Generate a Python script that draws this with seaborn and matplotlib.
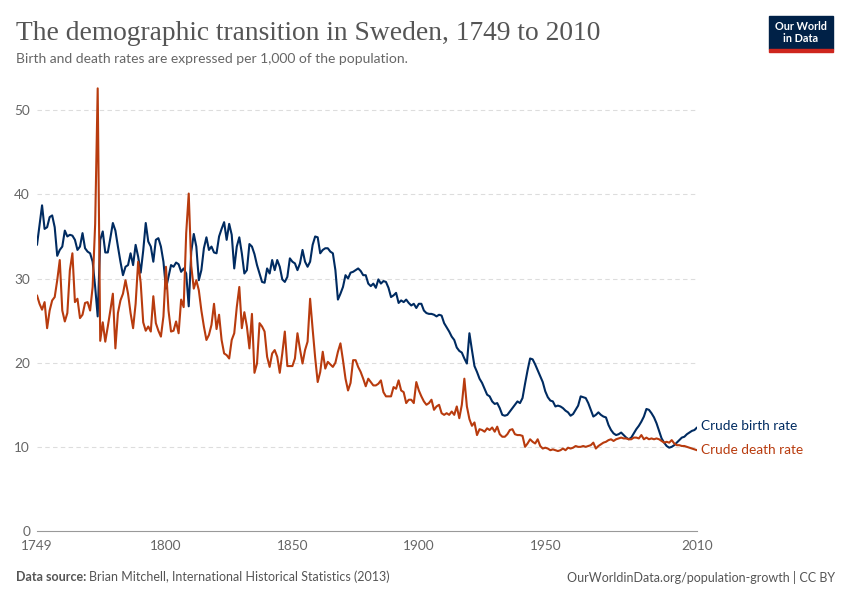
import matplotlib
matplotlib.use("Agg")
import matplotlib.pyplot as plt
import numpy as np
import pandas as pd
import seaborn as sns
from matplotlib.patches import Rectangle

# Sweden, crude rates per 1,000, one value per year 1749..2010
years = list(range(1749, 2011))

birth_rate = [
    34.0,                                                        # 1749
    36.4, 38.7, 35.9, 36.1, 37.3, 37.5, 36.1, 32.7, 33.4, 33.8,  # 1750s
    35.7, 35.0, 35.2, 35.1, 34.6, 33.4, 33.8, 35.4, 33.6, 33.2,  # 1760s
    33.0, 32.0, 29.0, 25.5, 34.6, 35.6, 33.1, 33.1, 34.8, 36.6,  # 1770s
    35.7, 33.8, 32.0, 30.4, 31.4, 31.6, 33.0, 31.6, 34.0, 32.6,  # 1780s
    30.7, 33.3, 36.6, 34.4, 33.8, 32.0, 34.6, 34.8, 33.8, 32.0,  # 1790s
    28.8, 30.2, 31.6, 31.4, 31.9, 31.7, 30.8, 31.2, 30.6, 26.7,  # 1800s
    33.2, 35.3, 33.8, 29.8, 31.0, 33.6, 34.9, 33.4, 33.8, 33.1,  # 1810s
    33.0, 35.0, 35.9, 36.7, 34.6, 36.5, 35.2, 31.2, 33.8, 34.9,  # 1820s
    33.0, 30.6, 31.0, 34.1, 33.8, 32.9, 31.6, 30.6, 29.6, 29.5,  # 1830s
    31.2, 30.6, 32.2, 31.0, 32.2, 31.4, 29.9, 29.6, 30.2, 32.4,  # 1840s
    32.0, 31.8, 31.0, 31.8, 33.4, 32.0, 31.4, 32.0, 34.0, 35.0,  # 1850s
    34.9, 33.0, 33.4, 33.6, 33.6, 33.2, 33.0, 31.0, 27.5, 28.2,  # 1860s
    29.0, 30.4, 30.0, 30.7, 30.8, 31.0, 31.2, 30.9, 30.4, 30.4,  # 1870s
    29.4, 29.1, 29.4, 28.9, 29.9, 29.4, 29.7, 29.6, 28.9, 27.8,  # 1880s
    28.0, 28.3, 27.1, 27.4, 27.2, 27.5, 27.1, 26.8, 27.0, 26.5,  # 1890s
    27.0, 27.0, 26.2, 25.9, 25.8, 25.8, 25.7, 25.5, 25.7, 25.6,  # 1900s
    24.7, 24.2, 23.7, 23.1, 22.7, 21.8, 21.4, 21.2, 20.5, 19.9,  # 1910s
    23.5, 21.5, 19.6, 18.9, 18.1, 17.6, 16.9, 16.2, 16.0, 15.4,  # 1920s
    15.1, 15.2, 14.6, 13.8, 13.7, 13.8, 14.2, 14.6, 15.0, 15.4,  # 1930s
    15.2, 15.8, 17.5, 19.1, 20.5, 20.4, 19.8, 19.1, 18.4, 17.7,  # 1940s
    16.6, 15.9, 15.5, 15.4, 14.8, 14.9, 14.8, 14.6, 14.3, 14.1,  # 1950s
    13.7, 13.9, 14.4, 14.9, 16.0, 15.9, 15.8, 15.2, 14.4, 13.6,  # 1960s
    13.8, 14.1, 13.8, 13.6, 13.5, 12.6, 12.0, 11.6, 11.4, 11.5,  # 1970s
    11.7, 11.4, 11.1, 10.9, 11.1, 11.6, 12.1, 12.5, 13.0, 13.6,  # 1980s
    14.5, 14.4, 14.0, 13.5, 12.8, 11.9, 11.0, 10.5, 10.1, 9.9,   # 1990s
    10.0, 10.2, 10.5, 10.8, 11.1, 11.2, 11.5, 11.7, 11.9, 12.0,  # 2000s
    12.3,                                                        # 2010
]

death_rate = [
    28.0,                                                        # 1749
    27.0, 26.3, 27.2, 24.1, 26.2, 27.4, 27.8, 29.8, 32.2, 26.2,  # 1750s
    24.9, 25.9, 31.0, 33.0, 27.2, 27.6, 25.3, 25.7, 27.1, 27.2,  # 1760s
    26.2, 29.0, 36.5, 52.6, 22.6, 24.8, 22.5, 24.3, 26.2, 28.2,  # 1770s
    21.7, 25.9, 27.4, 28.2, 29.8, 28.2, 25.9, 24.1, 27.0, 32.0,  # 1780s
    29.5, 24.8, 23.8, 24.3, 23.7, 27.9, 24.7, 23.8, 23.1, 25.5,  # 1790s
    31.4, 26.2, 23.7, 23.8, 24.9, 23.5, 27.5, 26.6, 35.4, 40.1,  # 1800s
    31.5, 28.8, 29.8, 28.6, 26.2, 24.3, 22.7, 23.3, 24.5, 27.0,  # 1810s
    24.0, 25.7, 22.7, 21.1, 20.9, 20.5, 22.7, 23.5, 26.6, 29.0,  # 1820s
    24.1, 26.0, 24.3, 21.7, 25.8, 18.8, 19.9, 24.7, 24.3, 23.7,  # 1830s
    20.7, 19.5, 21.1, 21.5, 20.7, 18.8, 21.1, 23.7, 19.6, 19.6,  # 1840s
    19.6, 20.5, 23.5, 21.6, 19.9, 21.5, 22.5, 27.6, 24.0, 20.6,  # 1850s
    17.7, 18.9, 21.3, 19.3, 20.1, 19.8, 19.5, 20.0, 21.3, 22.3,  # 1860s
    20.3, 18.1, 16.7, 17.6, 20.3, 20.3, 19.5, 18.9, 18.1, 17.2,  # 1870s
    18.1, 17.7, 17.3, 17.3, 17.5, 17.9, 16.5, 16.0, 16.0, 16.0,  # 1880s
    17.1, 16.9, 17.9, 16.7, 16.5, 15.2, 15.6, 15.6, 15.2, 17.7,  # 1890s
    16.7, 16.0, 15.4, 15.0, 15.2, 15.6, 14.4, 14.8, 15.0, 14.0,  # 1900s
    13.8, 14.0, 13.8, 14.2, 13.8, 14.8, 13.4, 15.0, 18.1, 14.8,  # 1910s
    13.3, 12.5, 12.9, 11.4, 12.1, 12.0, 11.8, 12.2, 12.0, 12.3,  # 1920s
    11.8, 12.4, 11.5, 11.2, 11.2, 11.5, 12.0, 12.1, 11.5, 11.4,  # 1930s
    11.4, 11.3, 10.0, 10.4, 10.9, 10.6, 10.4, 10.9, 10.1, 9.8,   # 1940s
    9.9, 9.8, 9.6, 9.7, 9.6, 9.5, 9.6, 9.8, 9.6, 9.9,            # 1950s
    9.8, 9.9, 10.1, 10.0, 10.0, 10.1, 10.0, 10.1, 10.2, 10.5,    # 1960s
    9.8, 10.1, 10.3, 10.5, 10.6, 10.8, 10.9, 10.7, 10.9, 11.0,   # 1970s
    11.1, 11.0, 11.0, 10.9, 10.9, 11.1, 11.1, 11.0, 11.4, 10.9,  # 1980s
    11.1, 10.9, 11.0, 10.9, 11.0, 10.9, 10.7, 10.5, 10.6, 10.5,  # 1990s
    10.8, 10.4, 10.2, 10.2, 10.1, 10.1, 10.0, 9.9, 9.8, 9.7,     # 2000s
    9.6,                                                         # 2010
]

series_names = ["Crude birth rate", "Crude death rate"]
x_ticks = [1749, 1800, 1850, 1900, 1950, 2010]
y_ticks = [0, 10, 20, 30, 40, 50]

BLUE = "#002b61"
RED = "#b83b0e"
GREY = "#666666"

df = pd.DataFrame({
    "year": years * 2,
    "rate": birth_rate + death_rate,
    "series": [series_names[0]] * len(years) + [series_names[1]] * len(years),
})

sns.set_theme(style="white")
plt.rcParams["font.family"] = ["Lato", "DejaVu Sans"]

W, H = 850, 600
fig = plt.figure(figsize=(W / 100, H / 100), dpi=100)
# axes box in pixels: x 37..697, y 85..531
ax = fig.add_axes([37 / W, 1 - 531 / H, 660 / W, 446 / H])

sns.lineplot(data=df, x="year", y="rate", hue="series",
             palette=[BLUE, RED], linewidth=1.5, legend=False, ax=ax)

ax.set_xlim(1749, 2010)
ax.set_ylim(0, 53)
ax.set_xlabel("")
ax.set_ylabel("")
ax.set_xticks(x_ticks)
ax.set_yticks(y_ticks)
ax.tick_params(axis="x", colors="#999999", labelcolor=GREY, labelsize=9.8,
               length=5, width=0.8, pad=1.5, direction="out")
ax.tick_params(axis="y", length=0, labelcolor=GREY, labelsize=9.8, pad=5)

for v in y_ticks[1:]:
    ax.axhline(v, color="#dddddd", linewidth=0.8, linestyle=(0, (4, 3)), zorder=0)

for side in ["top", "right", "left"]:
    ax.spines[side].set_visible(False)
ax.spines["bottom"].set_color("#999999")
ax.spines["bottom"].set_linewidth(0.8)

# labels at line ends
ax.annotate(series_names[0], xy=(years[-1], birth_rate[-1]), xytext=(3, 1),
            textcoords="offset points", va="center", ha="left",
            color=BLUE, fontsize=9.8, annotation_clip=False)
ax.annotate(series_names[1], xy=(years[-1], death_rate[-1]), xytext=(3, 0),
            textcoords="offset points", va="center", ha="left",
            color=RED, fontsize=9.8, annotation_clip=False)

# title and subtitle
fig.text(16 / W, 1 - 33 / H, "The demographic transition in Sweden, 1749 to 2010",
         family=["Liberation Serif", "DejaVu Serif"], fontsize=19.8, color="#555555",
         va="center", ha="left")
fig.text(16 / W, 1 - 59 / H, "Birth and death rates are expressed per 1,000 of the population.",
         fontsize=10, color=GREY, va="center", ha="left")

# logo
fig.patches.append(Rectangle((769 / W, 1 - 49 / H), 64 / W, 33 / H,
                             transform=fig.transFigure, color="#002147", zorder=5))
fig.patches.append(Rectangle((769 / W, 1 - 52 / H), 64 / W, 3 / H,
                             transform=fig.transFigure, color="#ce261e", zorder=5))
fig.text(801 / W, 1 - 32.5 / H, "Our World\nin Data", color="white", fontsize=7.8,
         fontweight="bold", ha="center", va="center", linespacing=1.1, zorder=6)

# footer
fig.text(16 / W, 1 - 577 / H, "Data source:", fontsize=9, color="#555555",
         fontweight="bold", va="center", ha="left")
fig.text(89 / W, 1 - 577 / H, "Brian Mitchell, International Historical Statistics (2013)",
         fontsize=9, color="#555555", va="center", ha="left")
fig.text(835 / W, 1 - 577 / H, "OurWorldinData.org/population-growth | CC BY",
         fontsize=9, color="#555555", va="center", ha="right")

fig.savefig("out.png", dpi=100)
plt.close(fig)
